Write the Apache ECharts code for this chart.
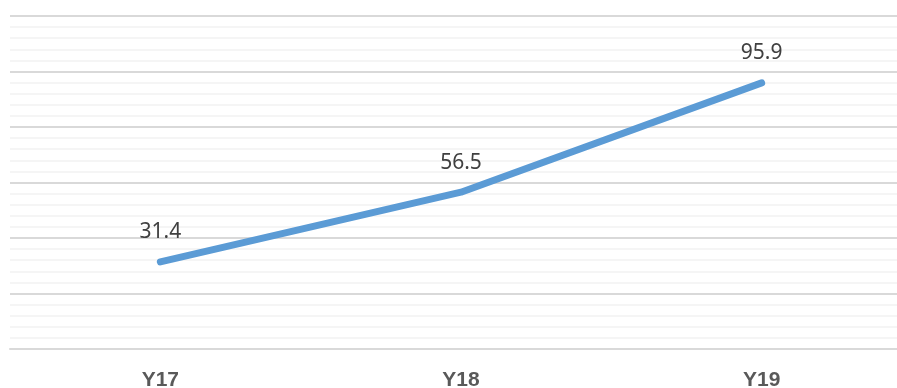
<!DOCTYPE html>
<html>
<head>
<meta charset="utf-8">
<script src="https://cdn.jsdelivr.net/npm/echarts@6/dist/echarts.min.js"></script>
<style>html,body{margin:0;padding:0;background:#fff;overflow:hidden;}#c{width:897px;height:388px;}</style>
</head>
<body>
<div id="c"></div>
<script>
const categories = ['Y17', 'Y18', 'Y19'];
const values = [31.4, 56.5, 95.9];

const chart = echarts.init(document.getElementById('c'), null, {renderer: 'canvas'});
chart.setOption({
  animation: false,
  backgroundColor: '#ffffff',
  grid: {left: 10, right: -15, top: 16, bottom: 39, containLabel: false, outerBoundsMode: 'none'},
  xAxis: {
    type: 'category',
    data: categories,
    boundaryGap: true,
    axisLine: {show: true, lineStyle: {color: '#d9d9d9', width: 2}},
    axisTick: {show: false},
    axisLabel: {
      margin: 21,
      fontFamily: 'Liberation Sans, Arial, sans-serif',
      fontWeight: 'bold',
      fontSize: 21,
      color: '#595959'
    }
  },
  yAxis: {
    type: 'value',
    min: 0, max: 120, interval: 20,
    axisLine: {show: false},
    axisTick: {show: false},
    axisLabel: {show: false},
    splitLine: {show: true, lineStyle: {color: '#d9d9d9', width: 2}},
    minorTick: {show: false, splitNumber: 5},
    minorSplitLine: {show: true, lineStyle: {color: '#f2f2f2', width: 1.5}}
  },
  series: [{
    type: 'line',
    data: values,
    symbol: 'circle',
    symbolSize: 2,
    showSymbol: true,
    itemStyle: {color: '#5b9bd5'},
    lineStyle: {color: '#5b9bd5', width: 7, cap: 'round', join: 'round'},
    label: {
      show: true,
      position: 'top',
      distance: 18,
      fontFamily: 'Noto Sans, Open Sans, sans-serif',
      fontSize: 21,
      color: '#404040'
    }
  }]
});
</script>
</body>
</html>
